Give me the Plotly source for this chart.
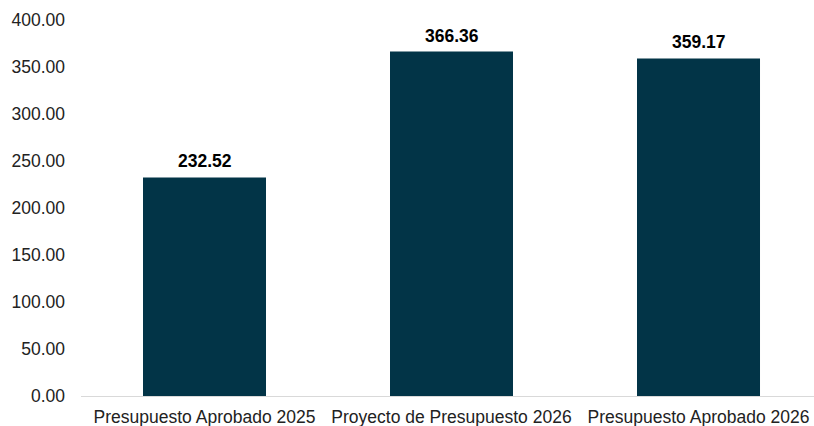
import plotly.graph_objects as go

categories = ["Presupuesto Aprobado 2025", "Proyecto de Presupuesto 2026", "Presupuesto Aprobado 2026"]
values = [232.52, 366.36, 359.17]
tick_vals = [0, 50, 100, 150, 200, 250, 300, 350, 400]

BAR_COLOR = "#023447"
FONT = "Liberation Sans, Arial, sans-serif"
FS = 17.5

fig = go.Figure()
fig.add_trace(go.Bar(
    x=list(range(len(categories))),
    y=values,
    width=0.498,
    marker=dict(color=BAR_COLOR, line=dict(width=0)),
    hoverinfo="skip",
))

for i, v in enumerate(values):
    fig.add_annotation(
        x=i, y=v, text=f"<b>{v:.2f}</b>", showarrow=False,
        yanchor="bottom", yshift=4,
        font=dict(family=FONT, size=FS, color="#000000"),
    )

fig.update_layout(
    width=814, height=426,
    margin=dict(l=81, r=0, t=20, b=30),
    paper_bgcolor="white", plot_bgcolor="white",
    showlegend=False,
    font=dict(family=FONT, size=FS, color="#222222"),
    xaxis=dict(
        tickmode="array",
        tickvals=list(range(len(categories))),
        ticktext=categories,
        range=[-0.5, 2.4676],
        showgrid=False, zeroline=False,
        showline=True, linecolor="#d9d9d9", linewidth=1,
        ticks="", ticklabelstandoff=5,
        tickfont=dict(family=FONT, size=FS, color="#222222"),
    ),
    yaxis=dict(
        range=[0, 400],
        tickmode="array",
        tickvals=tick_vals,
        ticktext=[f"{t:.2f}" for t in tick_vals],
        showgrid=False, zeroline=False, showline=False,
        ticks="", ticklabelstandoff=15,
        tickfont=dict(family=FONT, size=FS, color="#222222"),
    ),
)

fig.write_html(
    "out.html",
    config={"displayModeBar": False, "staticPlot": True},
    post_script="document.body.style.margin='0';document.body.style.overflow='hidden';",
)
